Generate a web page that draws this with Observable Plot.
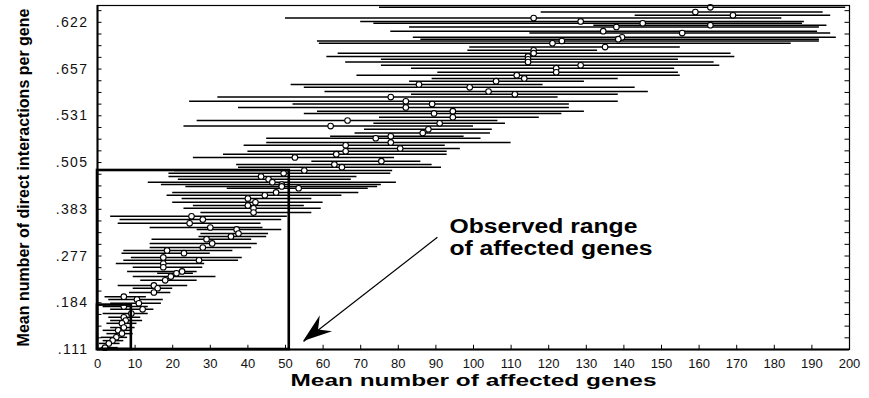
<!DOCTYPE html>
<html>
<head>
<meta charset="utf-8">
<script src="https://cdn.jsdelivr.net/npm/d3@7"></script>
<script src="https://cdn.jsdelivr.net/npm/@observablehq/plot@0.6"></script>
<style>
  html, body { margin: 0; padding: 0; background: #fff; }
</style>
</head>
<body>
<div id="chart"></div>
<script>
// One row per simulated network size: its level on the interactions axis,
// and the low / mean / high number of affected genes.
const rowLevel = [7.32, 7.22, 7.15, 7.09, 7.02, 6.98, 6.94, 6.90, 6.81, 6.77,
  6.68, 6.64, 6.60, 6.55, 6.47, 6.40, 6.34, 6.27, 6.21, 6.15,
  6.08, 6.02, 5.93, 5.87, 5.80, 5.74, 5.67, 5.61, 5.52, 5.46,
  5.40, 5.31, 5.25, 5.18, 5.10, 5.05, 4.97, 4.90, 4.84, 4.78,
  4.71, 4.63, 4.56, 4.52, 4.43, 4.37, 4.30, 4.24, 4.18, 4.11,
  4.03, 3.96, 3.90, 3.83, 3.77, 3.70, 3.64, 3.58, 3.53, 3.49,
  3.45, 3.36, 3.30, 3.23, 3.15, 3.08, 3.02, 2.93, 2.85, 2.78,
  2.70, 2.61, 2.57, 2.48, 2.42, 2.36, 2.27, 2.18, 2.12, 2.06,
  1.97, 1.91, 1.84, 1.76, 1.67, 1.63, 1.56, 1.48, 1.37, 1.31,
  1.22, 1.13, 1.07, 0.99, 0.92, 0.86, 0.77, 0.69, 0.62, 0.56,
  0.47, 0.41, 0.34, 0.26, 0.19, 0.13, 0.04];

const geneLow = [75, 118, 143, 50, 70, 73.5, 132, 83, 78, 115,
  84, 86, 58.5, 59, 99, 98.5, 64, 61, 75.5, 66,
  75.5, 83.5, 90.5, 69, 89, 83, 51.5, 55, 60.5, 83.5,
  32, 24.5, 52, 37.5, 58.5, 55, 75, 26.5, 73.5, 23,
  71, 68.5, 62, 45, 45, 39, 66.5, 40, 33.5, 25.5,
  57, 37, 37.5, 20.5, 19, 19, 21.5, 13.5, 17, 23.5,
  34.5, 20, 18.5, 22.5, 20, 25.5, 23, 27.5, 3.5, 6,
  5.5, 14, 26.5, 27.5, 27, 14.5, 14, 14, 7, 6.5,
  9, 7, 5, 9.5, 8, 16, 9.5, 11.5, 5.5, 9.5,
  8.5, 2, 3, 3.5, 1.5, 3.5, 1.5, 3, 3.5, 2.5,
  3.5, 1.5, 2.5, 1, 1.5, 0.5, 1];

const geneMean = [163, 159, 169, 116, 128.5, 145, 163, 138, 134.5, 155.5,
  139.5, 138.5, 123.5, 121, 135, 116, 116, 114.5, 114.5, 114.5,
  128.5, 122, 122, 111.5, 113.5, 106, 85.5, 99, 104, 111,
  78, 82, 89, 82, 94.5, 89.5, 94.5, 66.5, 91, 62,
  88, 86.5, 78, 74, 78, 66, 80.5, 66, 63.5, 52.5,
  75.5, 63, 65, 55, 49.5, 43.5, 45.5, 46.5, 49, 49,
  53.5, 47.5, 44.5, 40, 42, 40, 41.5, 41.5, 25, 28,
  24.5, 30, 37, 37.5, 35.5, 29, 30.5, 28, 18.5, 23,
  17.5, 27, 17.5, 17.5, 22.5, 21, 19.5, 18, 15, 16,
  15, 7, 10.5, 11, 7, 12, 9, 7, 7.5, 6.5,
  7, 5.5, 6.5, 5, 4, 3, 2];

const geneHigh = [199, 193, 195, 182, 188, 187.5, 194, 192, 191.5, 195,
  196.5, 192, 192, 184.5, 155, 133, 168.5, 169.5, 154.5, 164,
  165.5, 153.5, 154.5, 155, 138.5, 129.5, 118.5, 143, 146.5, 138.5,
  122.5, 138.5, 125.5, 125.5, 129.5, 123.5, 117.5, 106.5, 108.5, 100,
  105, 104.5, 97.5, 102, 110, 92.5, 96.5, 93, 93, 79,
  86, 89, 91.5, 78.5, 78, 69, 67.5, 79.5, 75.5, 74.5,
  72, 69.5, 65, 57, 60, 55, 59.5, 57, 50.5, 49,
  43.5, 44, 49, 45.5, 45, 41, 42.5, 41, 36, 30,
  38.5, 37.5, 28.5, 28, 26.5, 25.5, 31.5, 26.5, 24, 20,
  19.5, 13, 17.5, 17, 13.5, 15, 13.5, 11.5, 12, 10.5,
  10, 9, 9.5, 8, 7, 6, 5.5];

// Axis ticks and their labels
const geneTicks = d3.range(0, 201, 10);
const levelTicks = [0, 1, 2, 3, 4, 5, 6, 7];
const levelLabels = [".111", ".184", ".277", ".383", ".505", ".531", ".657", ".622"];
const levelMinorTicks = d3.range(0, 7.3, 0.25);

// Observed range of affected genes (outer box) and its lower corner
const observedGenes = [51, 9];
const observedLevels = [3.83, 0.95];

// Annotation text and pointer
const noteLines = ["Observed range", "of affected genes"];
const noteAt = {gene: 93.6, levels: [2.63, 2.16]};
const pointer = {fromGene: 90.4, fromLevel: 2.40, toGene: 54.8, toLevel: 0.17};

const rows = rowLevel.map((level, i) => ({
  level, low: geneLow[i], mean: geneMean[i], high: geneHigh[i]
}));
const boxes = observedGenes.map((g, i) => ({gene: g, level: observedLevels[i]}));

// Filled "stealth" arrowhead placed with the chart's own scales
function pointerHead(index, scales) {
  const x0 = scales.x(pointer.fromGene), y0 = scales.y(pointer.fromLevel);
  const x1 = scales.x(pointer.toGene), y1 = scales.y(pointer.toLevel);
  const len = Math.hypot(x1 - x0, y1 - y0);
  const ux = (x1 - x0) / len, uy = (y1 - y0) / len, nx = -uy, ny = ux;
  const L = 29, W = 10, N = 19;
  const pts = [
    [x1, y1],
    [x1 - L * ux + W * nx, y1 - L * uy + W * ny],
    [x1 - N * ux, y1 - N * uy],
    [x1 - L * ux - W * nx, y1 - L * uy - W * ny]
  ];
  const g = d3.create("svg:g");
  g.append("path").attr("d", "M" + pts.map(p => p.join(",")).join("L") + "Z").attr("fill", "#000");
  return g.node();
}

const font = "'Liberation Sans', Arial, Helvetica, sans-serif";

const chart = Plot.plot({
  width: 869,
  height: 398,
  marginLeft: 97,
  marginRight: 20,
  marginTop: 5,
  marginBottom: 49,
  style: {fontFamily: font, fontSize: "13px", color: "#111", background: "#fff", overflow: "visible"},
  x: {domain: [0, 200], ticks: geneTicks, tickSize: 0, tickPadding: 9, label: null},
  y: {domain: [0, 7.36], ticks: levelTicks, tickFormat: i => levelLabels[i], tickSize: 0, tickPadding: 9, label: null},
  marks: [
    // interval bars and mean markers
    Plot.ruleY(rows, {y: "level", x1: "low", x2: "high", stroke: "#000", strokeWidth: 1.5}),
    Plot.dot(rows, {x: "mean", y: "level", r: 2.8, fill: "#fff", stroke: "#000", strokeWidth: 1.1}),

    // inward tick marks
    Plot.ruleX(geneTicks, {x: d => d, y1: 0, y2: 0.09, stroke: "#000", strokeWidth: 1}),
    Plot.ruleY(levelMinorTicks, {y: d => d, x1: 0, x2: 1.2, stroke: "#000", strokeWidth: 1}),
    Plot.ruleY(levelMinorTicks, {y: d => d, x1: 198.8, x2: 200, stroke: "#000", strokeWidth: 1}),

    // frame
    Plot.frame({stroke: "#000", strokeWidth: 1.2}),
    Plot.ruleX([0], {stroke: "#000", strokeWidth: 2}),
    Plot.ruleY([0], {stroke: "#000", strokeWidth: 2.2}),

    // observed-range boxes
    Plot.rect(boxes, {x1: 0, x2: "gene", y1: 0, y2: "level", fill: "none", stroke: "#000", strokeWidth: 2.6}),

    // annotation
    Plot.link([pointer], {x1: "fromGene", y1: "fromLevel", x2: "toGene", y2: "toLevel", stroke: "#000", strokeWidth: 1.2}),
    pointerHead,
    Plot.text(noteLines, {x: noteAt.gene, y: (d, i) => noteAt.levels[i], text: d => d, textAnchor: "start",
      fontSize: 20, fontWeight: "bold", fill: "#000"}),

    // axis titles
    Plot.text(["Mean number of affected genes"], {frameAnchor: "bottom", dy: 36, text: d => d,
      textAnchor: "middle", fontSize: 16, fontWeight: "bold", fill: "#000"}),
    Plot.text(["Mean number of direct interactions per gene"], {frameAnchor: "left", dx: -74, rotate: -90,
      text: d => d, textAnchor: "middle", fontSize: 16, fontWeight: "bold", fill: "#000"})
  ]
});

// The lettering in this figure is set wide; stretch those labels to their set widths.
const setWidths = {
  "Observed range": 188,
  "of affected genes": 203,
  "Mean number of affected genes": 366
};
d3.select(chart).selectAll("text").each(function () {
  const t = this.textContent;
  const w = setWidths[t];
  if (w) {
    this.setAttribute("textLength", w);
    this.setAttribute("lengthAdjust", "spacingAndGlyphs");
  } else if (levelLabels.includes(t)) {
    this.style.fontSize = "14px";
    this.style.letterSpacing = "1.4px";
  }
});

document.getElementById("chart").appendChild(chart);
</script>
</body>
</html>
